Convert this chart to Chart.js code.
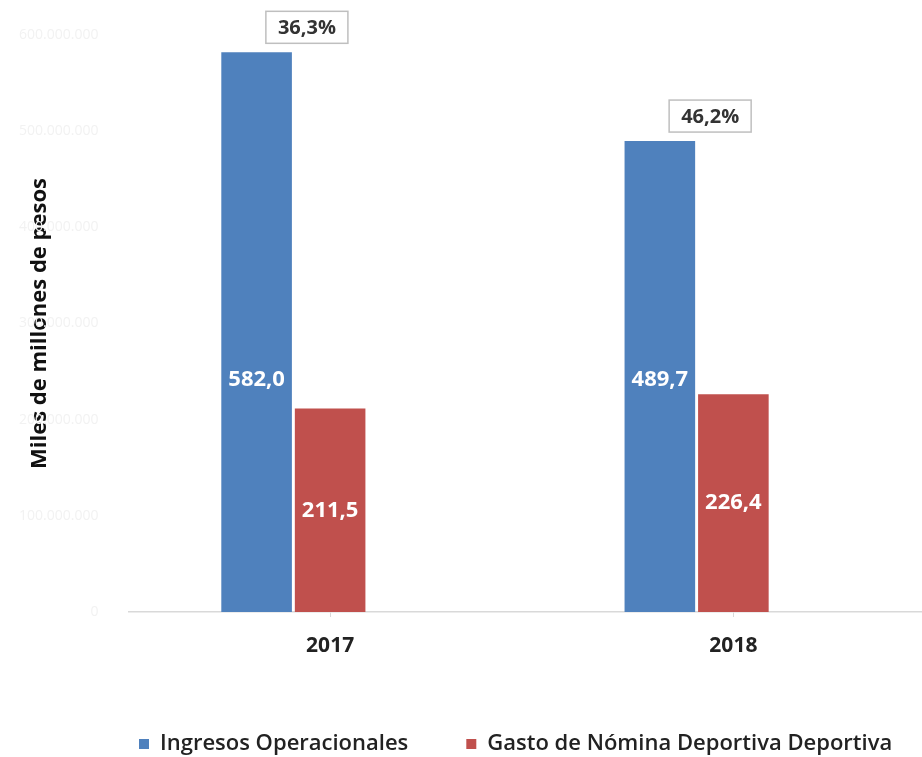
<!DOCTYPE html>
<html>
<head>
<meta charset="utf-8">
<script src="https://cdn.jsdelivr.net/npm/chart.js@4"></script>
<style>
    html, body { margin: 0; padding: 0; background: #fff; overflow: hidden; }
    #wrap { width: 935px; height: 757px; }
</style>
</head>
<body>
<div id="wrap"><canvas id="chart" width="935" height="757"></canvas></div>
<script>
const years = ['2017', '2018'];
const ingresos = [582.0, 489.7];
const gastoNomina = [211.5, 226.4];
const participacion = [36.3, 46.2];
const yTicks = [0, 100, 200, 300, 400, 500, 600];

const seriesNames = ['Ingresos Operacionales', 'Gasto de Nómina Deportiva Deportiva'];
const blue = '#4f81bd';
const red = '#c0504d';
const fontFamily = '"Open Sans", "Noto Sans", sans-serif';

const fmtComma = (v) => v.toFixed(1).replace('.', ',');
const fmtThousands = (v) => String(v * 1000000).replace(/\B(?=(\d{3})+(?!\d))/g, '.');

// white numbers inside the bars + boxed percentage over the first series
const labelsPlugin = {
    id: 'barLabels',
    afterDatasetsDraw(chart) {
        const ctx = chart.ctx;
        const yScale = chart.scales.y;
        ctx.save();
        ctx.font = `bold 22px ${fontFamily}`;
        ctx.fillStyle = '#ffffff';
        ctx.textAlign = 'center';
        ctx.textBaseline = 'middle';

        const blueMeta = chart.getDatasetMeta(0);
        blueMeta.data.forEach((bar, i) => {
            ctx.fillText(fmtComma(ingresos[i]), bar.x, yScale.getPixelForValue(242));
        });

        const redMeta = chart.getDatasetMeta(1);
        redMeta.data.forEach((bar, i) => {
            ctx.fillText(fmtComma(gastoNomina[i]), bar.x, (bar.y + bar.base) / 2);
        });

        ctx.font = `bold 20px ${fontFamily}`;
        blueMeta.data.forEach((bar, i) => {
            const text = fmtComma(participacion[i]) + '%';
            const w = ctx.measureText(text).width + 24;
            const h = 32;
            const cx = bar.x + bar.width / 2 + 15;
            const cy = bar.y - 25;
            ctx.fillStyle = '#ffffff';
            ctx.fillRect(cx - w / 2, cy - h / 2, w, h);
            ctx.strokeStyle = '#bfbfbf';
            ctx.lineWidth = 1.5;
            ctx.strokeRect(cx - w / 2, cy - h / 2, w, h);
            ctx.fillStyle = '#333333';
            ctx.fillText(text, cx, cy + 1);
        });
        ctx.restore();
    }
};

// legend sits low under a wide gap, starting a bit right of the canvas centre
const legendPlacePlugin = {
    id: 'legendPlace',
    afterInit(chart) {
        const legend = chart.legend;
        const origFit = legend.fit;
        legend.fit = function () {
            this.maxWidth = chart.width * 2;
            origFit.call(this);
            this.height = 82;
        };
        const origDraw = legend.draw;
        legend.draw = function () {
            const left = this.left;
            const right = this.right;
            this.left = 81;
            this.right = chart.width * 2;
            origDraw.call(this);
            this.left = left;
            this.right = right;
        };
    }
};

const chart = new Chart(document.getElementById('chart'), {
    type: 'bar',
    data: {
        labels: years,
        datasets: [
            { label: seriesNames[0], data: ingresos, backgroundColor: blue, categoryPercentage: 0.547, barPercentage: 0.96 },
            { label: seriesNames[1], data: gastoNomina, backgroundColor: red, categoryPercentage: 0.547, barPercentage: 0.96 },
            { label: 'Participación', data: participacion, backgroundColor: 'rgba(0,0,0,0)', yAxisID: 'y2', categoryPercentage: 0.547, barPercentage: 0.96 }
        ]
    },
    options: {
        responsive: false,
        animation: false,
        devicePixelRatio: 1,
        layout: { padding: { top: 35, right: 0, bottom: 0, left: 0 } },
        scales: {
            x: {
                grid: { display: true, drawOnChartArea: false, drawTicks: true, tickLength: 5, offset: false, color: '#d9d9d9' },
                border: { display: true, color: '#d9d9d9', width: 1.5 },
                ticks: { color: '#222222', padding: 16, font: { family: fontFamily, size: 21, weight: 'bold' } },
                afterFit: (scale) => { scale.height = 63; }
            },
            y: {
                min: 0,
                max: 600,
                afterBuildTicks: (scale) => { scale.ticks = yTicks.map(v => ({ value: v })); },
                grid: { display: false },
                border: { display: false },
                ticks: {
                    color: '#f2f2f2',
                    padding: 22,
                    font: { family: fontFamily, size: 14 },
                    callback: (v) => fmtThousands(v)
                },
                title: {
                    display: true,
                    text: 'Miles de millones de pesos',
                    color: '#111111',
                    padding: { top: 27, bottom: 0 },
                    font: { family: fontFamily, size: 22, weight: 'bold' }
                },
                afterFit: (scale) => { scale.width = 128.5; }
            },
            y2: { display: false, min: 0, max: 100 }
        },
        plugins: {
            legend: {
                position: 'bottom',
                fullSize: true,
                align: 'start',
                labels: {
                    boxWidth: 10,
                    boxHeight: 10,
                    padding: 58,
                    color: '#222222',
                    font: { family: fontFamily, size: 22, weight: '600' },
                    filter: (item) => item.datasetIndex < 2
                }
            },
            tooltip: { enabled: false }
        }
    },
    plugins: [labelsPlugin, legendPlacePlugin]
});
</script>
</body>
</html>
